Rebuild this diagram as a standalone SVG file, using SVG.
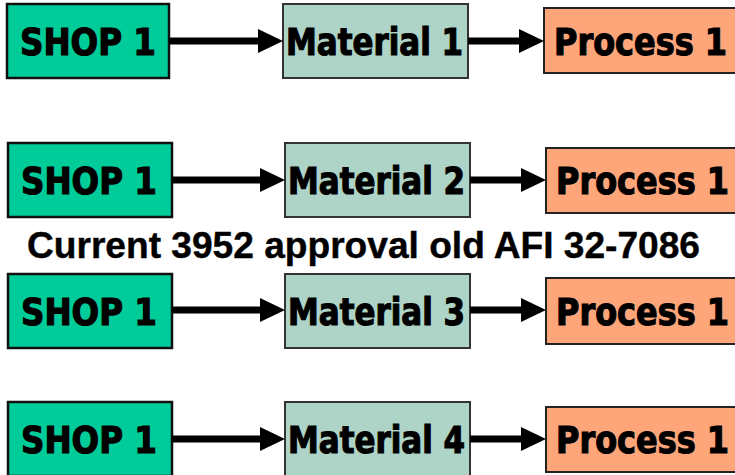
<svg xmlns="http://www.w3.org/2000/svg" width="735" height="475" viewBox="0 0 735 475">
<style>
.shop{fill:#00CC99;stroke:#111;stroke-width:2.5}
.mat{fill:#AED4C8;stroke:#333;stroke-width:2}
.proc{fill:#FFA57A;stroke:#222;stroke-width:2}
.lbl{font-family:"DejaVu Sans Condensed","DejaVu Sans",sans-serif;font-weight:bold;font-size:37px;fill:#000;stroke:#000;stroke-width:1.1}
.title{font-family:"Liberation Sans",Arial,sans-serif;font-weight:bold;font-size:36px;fill:#000;stroke:#000;stroke-width:0.4}
.conn{stroke:#000;stroke-width:7;fill:none}
</style>
<defs>
<marker id="ah" markerUnits="userSpaceOnUse" markerWidth="25" markerHeight="24" refX="5" refY="12" orient="auto" overflow="visible">
<path d="M0,0 L25,12 L0,24 Z" fill="#000"/>
</marker>
</defs>
<rect width="735" height="475" fill="#fff"/>

<g id="shop-r1"><rect class="shop" x="7" y="4" width="162" height="74"/><text class="lbl" x="20" y="55" textLength="136" lengthAdjust="spacingAndGlyphs">SHOP 1</text></g>
<g id="material-r1"><rect class="mat" x="283" y="4" width="185" height="74"/><text class="lbl" x="286" y="55" textLength="177" lengthAdjust="spacingAndGlyphs">Material 1</text></g>
<g id="process-r1"><rect class="proc" x="544" y="8" width="220" height="65"/><text class="lbl" x="554" y="55" textLength="173" lengthAdjust="spacingAndGlyphs">Process 1</text></g>

<g id="shop-r2"><rect class="shop" x="8" y="143" width="164" height="74"/><text class="lbl" x="21" y="194" textLength="136" lengthAdjust="spacingAndGlyphs">SHOP 1</text></g>
<g id="material-r2"><rect class="mat" x="285" y="143" width="185" height="74"/><text class="lbl" x="288" y="194" textLength="177" lengthAdjust="spacingAndGlyphs">Material 2</text></g>
<g id="process-r2"><rect class="proc" x="546" y="148" width="220" height="65"/><text class="lbl" x="556" y="194" textLength="173" lengthAdjust="spacingAndGlyphs">Process 1</text></g>

<g id="title"><text class="title" x="27" y="258" textLength="673" lengthAdjust="spacingAndGlyphs">Current 3952 approval old AFI 32-7086</text></g>

<g id="shop-r3"><rect class="shop" x="8" y="274" width="164" height="74"/><text class="lbl" x="21" y="325" textLength="136" lengthAdjust="spacingAndGlyphs">SHOP 1</text></g>
<g id="material-r3"><rect class="mat" x="285" y="274" width="185" height="74"/><text class="lbl" x="288" y="325" textLength="177" lengthAdjust="spacingAndGlyphs">Material 3</text></g>
<g id="process-r3"><rect class="proc" x="546" y="278" width="220" height="66"/><text class="lbl" x="556" y="325" textLength="173" lengthAdjust="spacingAndGlyphs">Process 1</text></g>

<g id="shop-r4"><rect class="shop" x="8" y="402" width="164" height="74"/><text class="lbl" x="21" y="453" textLength="136" lengthAdjust="spacingAndGlyphs">SHOP 1</text></g>
<g id="material-r4"><rect class="mat" x="285" y="402" width="185" height="74"/><text class="lbl" x="288" y="453" textLength="177" lengthAdjust="spacingAndGlyphs">Material 4</text></g>
<g id="process-r4"><rect class="proc" x="546" y="407" width="220" height="65"/><text class="lbl" x="556" y="453" textLength="173" lengthAdjust="spacingAndGlyphs">Process 1</text></g>

<g id="connectors">
<line class="conn" x1="169" y1="41" x2="263" y2="41" marker-end="url(#ah)"/>
<line class="conn" x1="468" y1="41" x2="524" y2="41" marker-end="url(#ah)"/>
<line class="conn" x1="172" y1="180" x2="265" y2="180" marker-end="url(#ah)"/>
<line class="conn" x1="470" y1="180" x2="526" y2="180" marker-end="url(#ah)"/>
<line class="conn" x1="172" y1="310" x2="265" y2="310" marker-end="url(#ah)"/>
<line class="conn" x1="470" y1="310" x2="526" y2="310" marker-end="url(#ah)"/>
<line class="conn" x1="172" y1="439" x2="265" y2="439" marker-end="url(#ah)"/>
<line class="conn" x1="470" y1="439" x2="526" y2="439" marker-end="url(#ah)"/>
</g>
</svg>
